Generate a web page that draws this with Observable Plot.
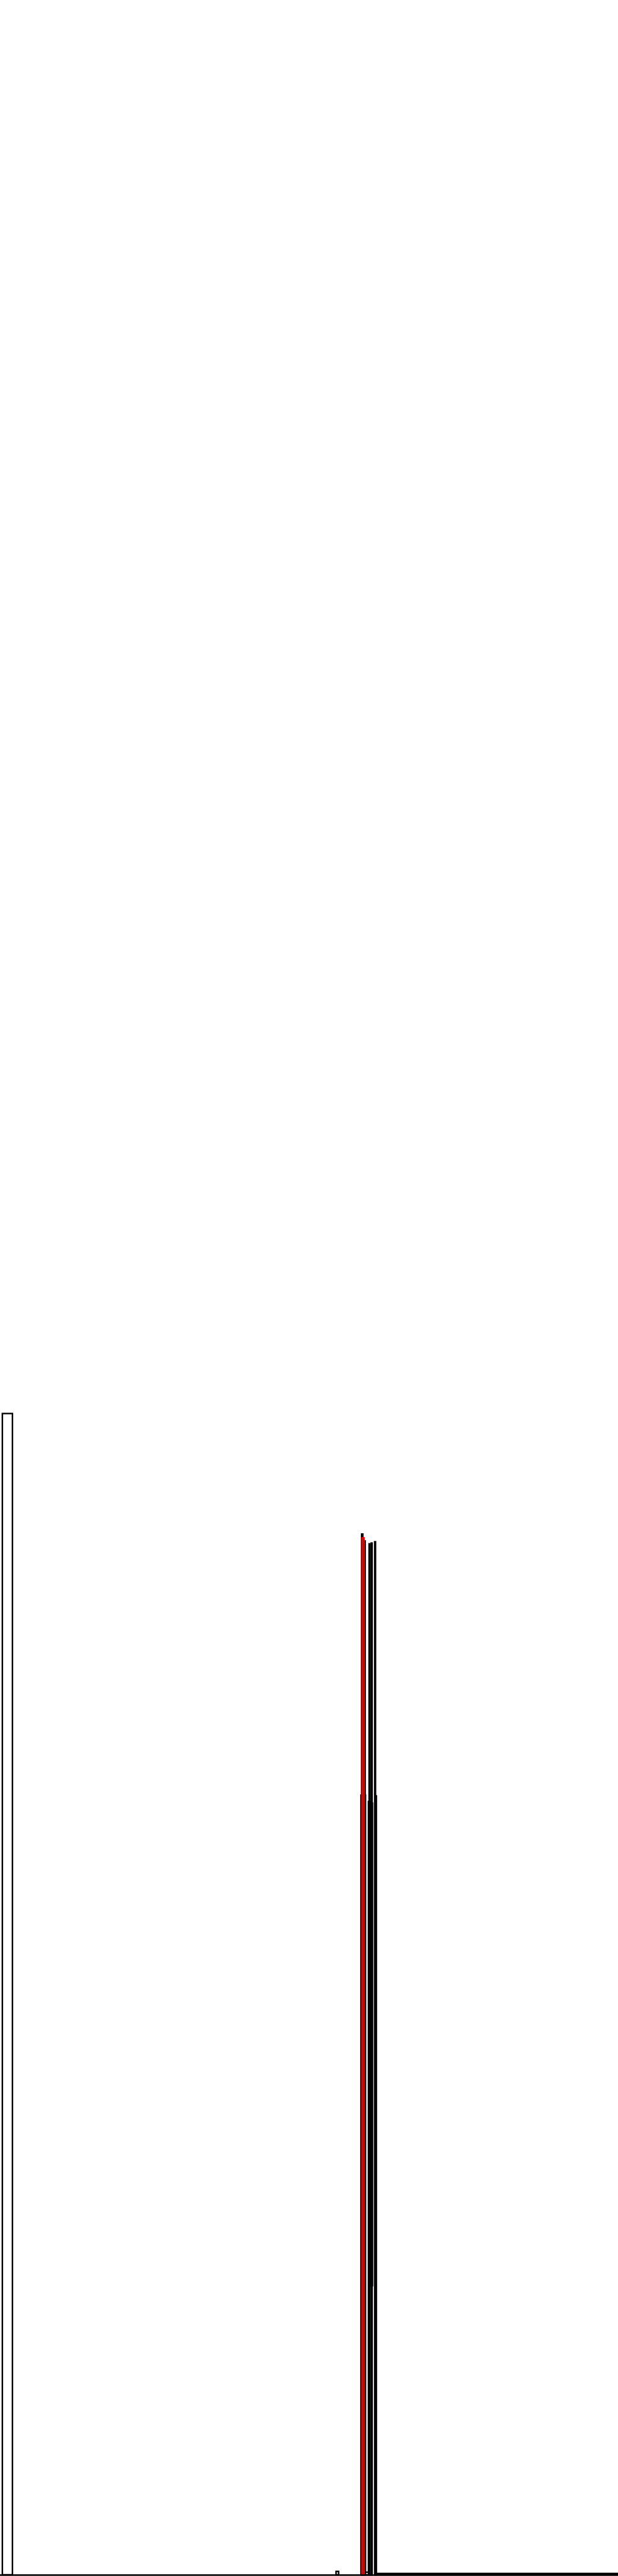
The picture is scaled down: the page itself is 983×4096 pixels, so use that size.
<!DOCTYPE html>
<html>
<head>
<meta charset="utf-8">
<script src="https://cdn.jsdelivr.net/npm/d3@7"></script>
<script src="https://cdn.jsdelivr.net/npm/@observablehq/plot@0.6"></script>
<style>
  html, body { margin: 0; padding: 0; background: #ffffff; }
  #chart svg { display: block; }
</style>
</head>
<body>
<div id="chart"></div>
<script>
// Histogram bins (step outlines)
const series = ["a", "c", "d", "h", "e", "f", "g", "i", "j", "k", "l", "m", "n", "b"];
const binLo  = [0.55, 84.25, 84.6, 84.1, 86.0, 86.5, 87.3, 85.85, 87.55, 85.87, 87.6, 85.0, 78.3, 84.38];
const binHi  = [2.9, 84.55, 85.1, 85.15, 86.2, 86.7, 87.5, 86.7, 87.7, 86.97, 144, 86.0, 78.9, 84.85];
const baseCounts = [0, 0, 0, 0, 0, 0, 0, 0, 0, 11.2, 0, 0, 0, 0];
const counts = [45.1, 40.42, 40.15, 30.28, 40.04, 40.07, 40.12, 30.03, 30.25, 30.0, 0.05, 0.1, 0.13, 40.27];
const highlighted = ["b"];
const filledSeries = ["k"];

const bins = series.map((s, i) => ({series: s, x1: binLo[i], x2: binHi[i], y1: baseCounts[i], y2: counts[i]}));

const W = 983, H = 4096;
const chart = Plot.plot({
  width: W,
  height: H,
  marginTop: 0,
  marginRight: 0,
  marginLeft: 0,
  marginBottom: 2,
  x: {domain: [0, 144], axis: null},
  y: {domain: [0, 100], axis: null},
  color: {
    type: "ordinal",
    domain: series,
    range: series.map(s => highlighted.includes(s) ? "#ff0000" : "#000000")
  },
  marks: [
    Plot.rect(bins.filter(d => filledSeries.includes(d.series)), {x1: "x1", x2: "x2", y1: "y1", y2: "y2", fill: "series"}),
    Plot.rect(bins.filter(d => !filledSeries.includes(d.series)), {x1: "x1", x2: "x2", y1: "y1", y2: "y2", fill: "none", stroke: "series", strokeWidth: 2.4}),
    Plot.ruleY([0], {stroke: "#000", strokeWidth: 2.4})
  ]
});
document.getElementById("chart").appendChild(chart);
</script>
</body>
</html>
